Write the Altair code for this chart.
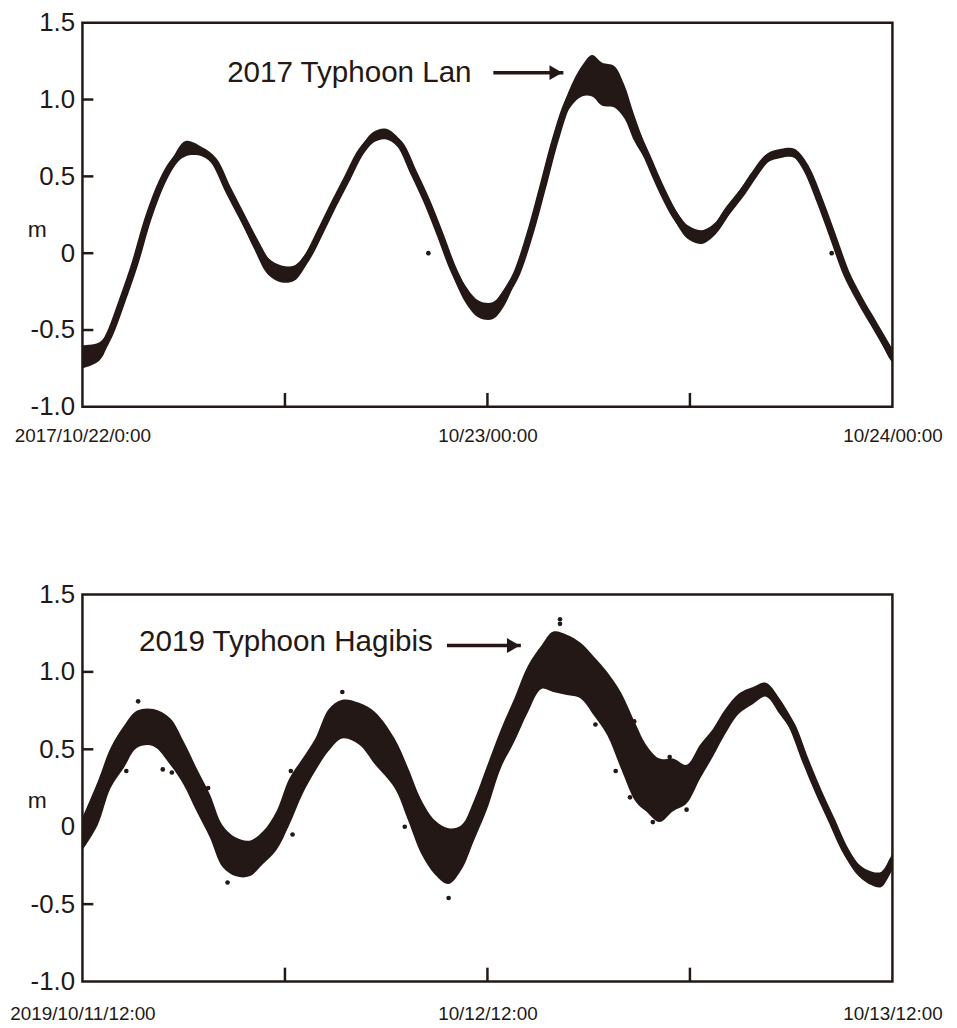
import altair as alt
import pandas as pd

INK = "#231815"
FONT = "Liberation Sans"

# ---------------- 2017 Typhoon Lan (hours after 2017/10/22 0:00, metres) ----------------
lan_hours = [0.0, 1.0, 1.6, 2.35, 3.1, 3.9, 4.7, 5.3, 6.1, 7.1, 7.8, 8.6, 9.4, 10.2, 11.0,
             11.8, 12.55, 13.3, 14.1, 14.9, 15.7, 16.5, 17.25, 18.0, 18.8, 19.6, 20.4, 21.2,
             21.96, 22.75, 23.5, 24.3, 24.9, 25.7, 26.5, 27.25, 28.0, 28.8, 29.6, 30.2, 30.8,
             31.5, 32.1, 32.7, 33.5, 34.3, 35.1, 35.9, 36.7, 37.5, 38.2, 39.0, 39.8, 40.6,
             41.4, 42.2, 42.9, 43.7, 44.5, 45.3, 46.1, 46.9, 47.85, 48.0]
lan_level = [-0.68, -0.64, -0.53, -0.31, -0.07, 0.23, 0.46, 0.58, 0.67, 0.66, 0.60, 0.42, 0.25,
             0.08, -0.07, -0.14, -0.13, -0.03, 0.14, 0.32, 0.49, 0.66, 0.75, 0.77, 0.71, 0.53,
             0.34, 0.12, -0.10, -0.27, -0.37, -0.38, -0.29, -0.14, 0.12, 0.42, 0.73, 0.99, 1.12,
             1.16, 1.14, 1.10, 1.00, 0.82, 0.62, 0.42, 0.25, 0.14, 0.10, 0.16, 0.27, 0.38, 0.51,
             0.62, 0.65, 0.65, 0.55, 0.34, 0.10, -0.14, -0.31, -0.46, -0.64, -0.67]
lan_low = [-0.75, -0.70, -0.57, -0.35, -0.10, 0.20, 0.43, 0.55, 0.63, 0.63, 0.57, 0.39, 0.21,
           0.02, -0.14, -0.19, -0.18, -0.07, 0.11, 0.29, 0.46, 0.63, 0.72, 0.74, 0.68, 0.50,
           0.31, 0.09, -0.15, -0.33, -0.42, -0.43, -0.36, -0.17, 0.09, 0.38, 0.69, 0.93, 1.02,
           1.02, 0.96, 0.95, 0.88, 0.73, 0.58, 0.38, 0.21, 0.09, 0.06, 0.12, 0.23, 0.35, 0.48,
           0.59, 0.62, 0.62, 0.52, 0.31, 0.07, -0.17, -0.34, -0.49, -0.69, -0.71]
lan_high = [-0.60, -0.58, -0.49, -0.27, -0.04, 0.26, 0.49, 0.61, 0.73, 0.69, 0.63, 0.45, 0.28,
            0.12, -0.03, -0.08, -0.08, 0.01, 0.17, 0.35, 0.52, 0.69, 0.79, 0.81, 0.74, 0.56,
            0.37, 0.15, -0.06, -0.22, -0.31, -0.32, -0.25, -0.10, 0.15, 0.46, 0.77, 1.05, 1.22,
            1.29, 1.24, 1.22, 1.10, 0.90, 0.66, 0.46, 0.29, 0.18, 0.15, 0.20, 0.31, 0.42, 0.54,
            0.65, 0.68, 0.68, 0.58, 0.37, 0.13, -0.11, -0.28, -0.43, -0.60, -0.63]
lan_stray_hours = [20.5, 44.4]
lan_stray_level = [0.0, 0.0]
lan_tick_labels = ["2017/10/22/0:00", "10/23/00:00", "10/24/00:00"]
lan_note = "2017 Typhoon Lan"
lan_note_hour, lan_note_level = 23.06, 1.17
lan_arrow_from, lan_arrow_to, lan_arrow_level = 24.35, 28.5, 1.175

# ---------------- 2019 Typhoon Hagibis (hours after 2019/10/11 12:00, metres) ----------------
hag_hours = [0.0, 0.9, 1.67, 2.45, 3.24, 4.2, 5.2, 6.0, 6.76, 7.55, 8.3, 9.1, 9.9, 10.7, 11.5,
             12.25, 13.04, 13.8, 14.6, 15.4, 16.4, 17.35, 18.5, 19.3, 20.1, 20.9, 21.7, 22.45,
             23.2, 24.0, 24.8, 25.6, 26.4, 27.2, 27.9, 28.7, 29.5, 30.3, 31.1, 31.9, 32.8, 33.4,
             34.2, 35.0, 35.8, 36.6, 37.35, 38.1, 38.9, 39.7, 40.5, 41.3, 42.06, 42.8, 43.6,
             44.4, 45.2, 46.0, 46.8, 47.35, 48.0]
hag_level = [-0.03, 0.15, 0.38, 0.52, 0.63, 0.64, 0.55, 0.41, 0.24, 0.07, -0.12, -0.20, -0.22,
             -0.14, -0.03, 0.16, 0.33, 0.47, 0.62, 0.70, 0.68, 0.58, 0.42, 0.20, 0.00, -0.13,
             -0.20, -0.14, 0.03, 0.26, 0.51, 0.69, 0.89, 1.03, 1.07, 1.05, 1.02, 0.92, 0.80,
             0.63, 0.42, 0.30, 0.22, 0.26, 0.30, 0.42, 0.54, 0.68, 0.80, 0.85, 0.89, 0.78, 0.65,
             0.44, 0.23, 0.04, -0.15, -0.28, -0.34, -0.34, -0.22]
hag_low = [-0.15, 0.01, 0.25, 0.38, 0.51, 0.52, 0.40, 0.27, 0.10, -0.07, -0.26, -0.32, -0.32,
           -0.24, -0.15, 0.01, 0.21, 0.36, 0.49, 0.57, 0.53, 0.40, 0.25, 0.04, -0.18, -0.31,
           -0.37, -0.28, -0.09, 0.12, 0.38, 0.55, 0.74, 0.89, 0.87, 0.85, 0.83, 0.72, 0.59,
           0.38, 0.16, 0.10, 0.03, 0.10, 0.15, 0.31, 0.45, 0.60, 0.73, 0.79, 0.84, 0.73, 0.61,
           0.40, 0.19, 0.00, -0.19, -0.32, -0.38, -0.39, -0.27]
hag_high = [0.06, 0.29, 0.51, 0.65, 0.75, 0.76, 0.70, 0.55, 0.38, 0.21, 0.01, -0.07, -0.09,
            -0.03, 0.10, 0.31, 0.44, 0.57, 0.76, 0.82, 0.80, 0.74, 0.57, 0.38, 0.17, 0.04,
            -0.01, 0.01, 0.17, 0.40, 0.63, 0.83, 1.04, 1.17, 1.26, 1.24, 1.19, 1.10, 1.00,
            0.87, 0.66, 0.53, 0.44, 0.44, 0.40, 0.53, 0.63, 0.76, 0.86, 0.90, 0.93, 0.83, 0.69,
            0.48, 0.27, 0.08, -0.11, -0.24, -0.29, -0.29, -0.17]
hag_stray_hours = [28.3, 28.3, 8.6, 21.7, 3.3, 15.4, 2.6, 5.3, 33.8, 30.4, 31.6, 34.8, 12.45,
                   12.35, 4.76, 7.45, 32.45, 19.1, 32.7, 35.8]
hag_stray_level = [1.34, 1.31, -0.36, -0.46, 0.81, 0.87, 0.36, 0.35, 0.03, 0.66, 0.36, 0.45,
                   -0.05, 0.36, 0.37, 0.25, 0.19, 0.00, 0.68, 0.11]
hag_tick_labels = ["2019/10/11/12:00", "10/12/12:00", "10/13/12:00"]
hag_note = "2019 Typhoon Hagibis"
hag_note_hour, hag_note_level = 20.76, 1.19
hag_arrow_from, hag_arrow_to, hag_arrow_level = 21.6, 25.98, 1.17

# ---------------- shared axis content ----------------
label_hours = [0, 24, 48]
inner_tick_hours = [12, 24, 36]
level_labels = [-1.0, -0.5, 0.0, 0.5, 1.0, 1.5]
inner_tick_levels = [-0.5, 0.0, 0.5, 1.0]


def panel(hours, level, low, high, s_hours, s_level, tick_labels, note, note_h, note_v,
          a_from, a_to, a_v, height, label_pad):
    xs = alt.Scale(domain=[0, 48], nice=False, zero=False)
    ys = alt.Scale(domain=[-1.0, 1.5], nice=False, zero=False)
    x_expr = " : ".join(f"datum.value == {h} ? '{t}'" for h, t in zip(label_hours, tick_labels)) + " : ''"
    y_expr = ("datum.value == 0 ? '0' : (datum.value < 0 ? '-' + format(-datum.value, '.1f') "
              ": format(datum.value, '.1f'))")
    xaxis = alt.Axis(values=label_hours, labelExpr=x_expr, ticks=False, domain=False, grid=False,
                     labelPadding=label_pad, labelFontSize=19, labelFont=FONT, labelColor=INK,
                     labelFlush=False, labelOverlap=False, title=None)
    yaxis = alt.Axis(values=level_labels, labelExpr=y_expr, ticks=False, domain=False, grid=False,
                     labelPadding=8, labelFontSize=26, labelFont=FONT, labelColor=INK,
                     labelFlush=False, labelOverlap=False, title="m", titleAngle=0,
                     titleX=-46, titleY=208, titleFont=FONT, titleFontSize=23,
                     titleFontWeight="normal", titleColor=INK, titleAlign="center",
                     titleBaseline="middle")

    def X(f):
        return alt.X(f"{f}:Q", scale=xs, axis=xaxis)

    def Y(f):
        return alt.Y(f"{f}:Q", scale=ys, axis=yaxis)

    curve = pd.DataFrame({"hour": hours, "level": level, "low": low, "high": high})
    band = alt.Chart(curve).mark_area(color=INK, clip=True, interpolate="catmull-rom").encode(
        x=X("hour"), y=Y("low"), y2="high:Q")
    line = alt.Chart(curve).mark_line(color=INK, strokeWidth=7, strokeCap="round",
                                      strokeJoin="round", clip=True,
                                      interpolate="catmull-rom").encode(x=X("hour"), y=Y("level"))
    strays = pd.DataFrame({"hour": s_hours, "level": s_level})
    dots = alt.Chart(strays).mark_circle(color=INK, size=22, opacity=1, clip=True).encode(
        x=X("hour"), y=Y("level"))
    yt = alt.Chart(pd.DataFrame({"level": inner_tick_levels})).mark_rule(
        color=INK, strokeWidth=2.5).encode(y=Y("level"), x=alt.value(0), x2=alt.value(11))
    xt = alt.Chart(pd.DataFrame({"hour": inner_tick_hours})).mark_rule(
        color=INK, strokeWidth=2.5).encode(x=X("hour"), y=alt.value(height),
                                            y2=alt.value(height - 14))
    ann = pd.DataFrame({"hour": [note_h], "level": [note_v], "text": [note]})
    txt = alt.Chart(ann).mark_text(align="right", baseline="middle", font=FONT, fontSize=29.8,
                                   color=INK).encode(x=X("hour"), y=Y("level"), text="text:N")
    arr = pd.DataFrame({"hour": [a_from], "hour2": [a_to], "level": [a_v]})
    shaft = alt.Chart(arr).mark_rule(color=INK, strokeWidth=3.5).encode(
        x=X("hour"), x2="hour2:Q", y=Y("level"))
    head = alt.Chart(arr).mark_point(shape="triangle-right", filled=True, size=225, opacity=1,
                                     color=INK, xOffset=-7.5).encode(x=X("hour2"), y=Y("level"))
    return alt.layer(band, line, dots, yt, xt, txt, shaft, head).properties(
        width=816, height=height)


top = panel(lan_hours, lan_level, lan_low, lan_high, lan_stray_hours, lan_stray_level,
            lan_tick_labels, lan_note, lan_note_hour, lan_note_level,
            lan_arrow_from, lan_arrow_to, lan_arrow_level, 387, 20)
bottom = panel(hag_hours, hag_level, hag_low, hag_high, hag_stray_hours, hag_stray_level,
               hag_tick_labels, hag_note, hag_note_hour, hag_note_level,
               hag_arrow_from, hag_arrow_to, hag_arrow_level, 390, 23)

chart = alt.vconcat(top, bottom, spacing=189, bounds="flush").properties(
    padding={"left": 0, "top": -4, "right": 5, "bottom": 5}
).configure_view(stroke=INK, strokeWidth=2.5)

chart.save("out.html", embed_options={"renderer": "svg", "actions": False})
